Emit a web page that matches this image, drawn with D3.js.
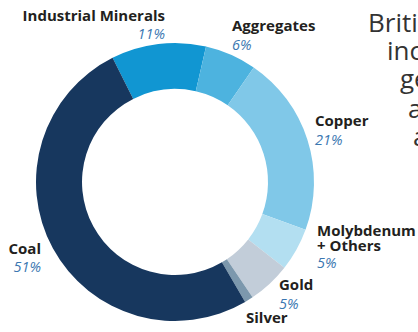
<!DOCTYPE html>
<html><head><meta charset="utf-8">
<script src="https://cdn.jsdelivr.net/npm/d3@7"></script>
<style>
html,body{margin:0;padding:0;background:#fff;overflow:hidden}
svg{display:block}
.lbl{font-family:"Open Sans",sans-serif;font-weight:700;font-size:15px;fill:#231f20}
.pct{font-family:"Open Sans",sans-serif;font-style:italic;font-size:14.5px;fill:#3b77b1}
.para{font-family:"Open Sans",sans-serif;font-weight:400;font-size:26px;fill:#333}
</style></head>
<body>
<script>
const categories = ["Coal","Industrial Minerals","Aggregates","Copper","Molybdenum + Others","Gold","Silver"];
const values = [51, 11, 6, 21, 5, 5, 1];
const colors = ["#17375e","#1196d2","#4db3df","#80c8e8","#b3dff1","#c2cdd9","#7c98ad"];
const labelLines = [["Coal"],["Industrial Minerals"],["Aggregates"],["Copper"],["Molybdenum","+ Others"],["Gold"],["Silver"]];
const pctLabels = ["51%","11%","6%","21%","5%","5%","1%"];
const paraFragments = ["Britis","inc","ge","a","a"];

const W=418,H=332;
const svg=d3.select("body").append("svg").attr("width",W).attr("height",H);
const cx=175, cy=182, rOuter=139, rInner=93;
// Order clockwise from top-left: Industrial Minerals ... Silver, then Coal
const order=[1,2,3,4,5,6,0];
const start=-26.7*Math.PI/180;
const pie=d3.pie().sort(null).value(i=>values[i]).startAngle(start).endAngle(start+2*Math.PI);
const arc=d3.arc().innerRadius(rInner).outerRadius(rOuter);
const g=svg.append("g").attr("transform",`translate(${cx},${cy})`);
g.selectAll("path").data(pie(order)).join("path")
  .attr("d",arc).attr("fill",d=>colors[d.data]);

// label layout (anchor positions of label blocks)
const labelPos = {
  1:{x:165,y:21,anchor:"end",pctY:39},
  2:{x:232,y:31,anchor:"start",pctY:50},
  3:{x:315,y:126,anchor:"start",pctY:145},
  4:{x:317,y:236,anchor:"start",pctY:268,lh:15},
  5:{x:279,y:290,anchor:"start",pctY:309},
  6:{x:246,y:323,anchor:"start",pctY:342},
  0:{x:41,y:254,anchor:"end",pctY:272}
};
categories.forEach((c,i)=>{
  const p=labelPos[i];
  const t=svg.append("text").attr("class","lbl").attr("text-anchor",p.anchor);
  labelLines[i].forEach((ln,k)=>{
    t.append("tspan").attr("x",p.x).attr("y",p.y+k*(p.lh||15)).text(ln);
  });
  svg.append("text").attr("class","pct").attr("text-anchor",p.anchor)
    .attr("x",p.x).attr("y",p.pctY).text(pctLabels[i]);
});

const paraPos=[[368,32],[387,60],[400,88],[408,118],[413,146]];
paraFragments.forEach((f,i)=>{
  svg.append("text").attr("class","para").attr("x",paraPos[i][0]).attr("y",paraPos[i][1]).text(f);
});
</script>
</body></html>
